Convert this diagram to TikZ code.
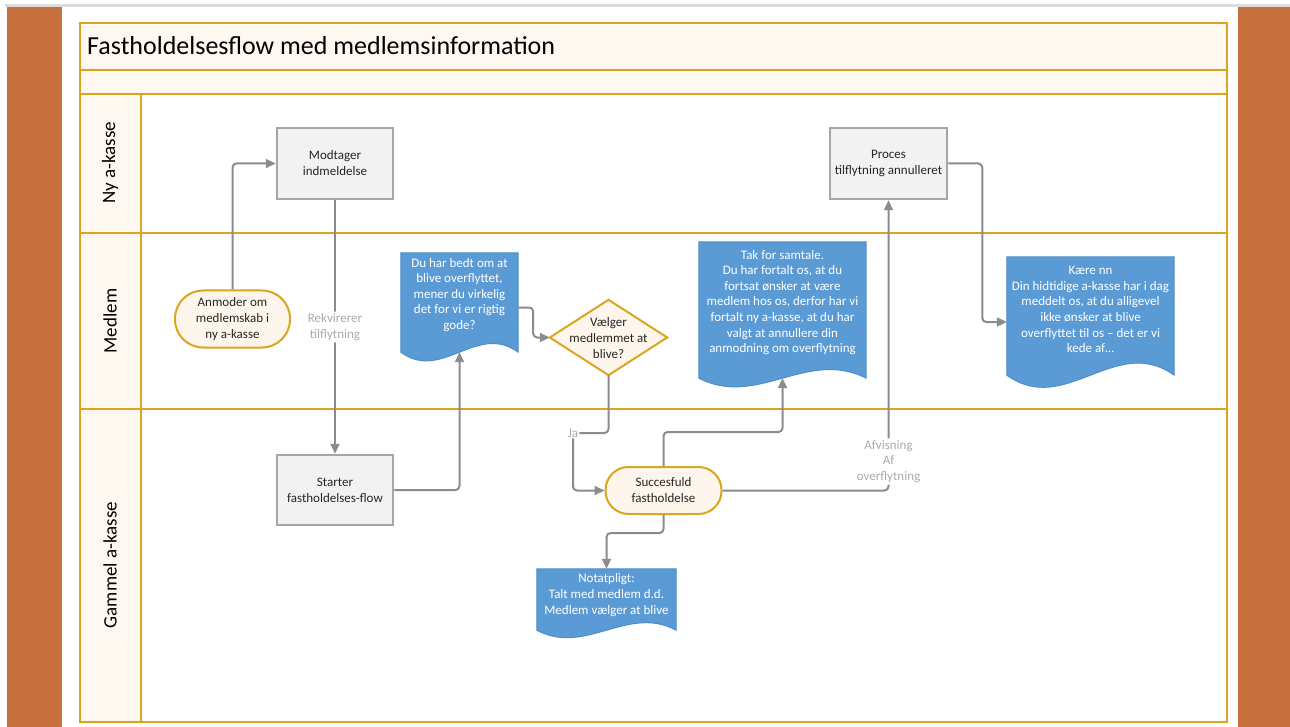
\documentclass[tikz,border=0pt]{standalone}
\usepackage{fontspec}
\setmainfont{Carlito}
\usetikzlibrary{arrows.meta,calc}
\definecolor{orangebar}{HTML}{C5703D}
\definecolor{gold}{HTML}{DAA520}
\definecolor{cream}{HTML}{FEF8F1}
\definecolor{pillfill}{HTML}{FEF6EC}
\definecolor{boxfill}{HTML}{F2F2F2}
\definecolor{boxline}{HTML}{A6A6A6}
\definecolor{conncol}{HTML}{8C8C8C}
\definecolor{lblgray}{HTML}{ABABAB}
\definecolor{docblue}{HTML}{5B9BD5}
\definecolor{docline}{HTML}{4F8DC6}
\definecolor{topgray}{HTML}{DCDCDC}
\definecolor{txt}{HTML}{262626}
\newcommand\docshape[2]{%
  \filldraw[fill=docblue, draw=docline, line width=1pt]
    let \p1=(#1.south west), \p2=(#1.north east), \n1={\x2-\x1} in
    (\x1,\y2) -- (\x2,\y2) -- (\x2,\y1)
    .. controls ({\x2-0.35*\n1},{\y1+#2pt}) and ({\x1+0.35*\n1},{\y1-#2pt}) .. (\x1,\y1) -- cycle;}
\begin{document}
\begin{tikzpicture}[x=1pt,y=-1pt,
  every node/.style={font=\fontsize{13}{16}\selectfont, text=txt, align=center, inner sep=0pt},
  procbox/.style={rectangle, draw=boxline, line width=2.5pt, fill=boxfill},
  pill/.style={rectangle, draw=gold, line width=2pt, fill=pillfill},
  area/.style={rectangle, draw=none},
  doctext/.style={text=white, font=\fontsize{13}{15.6}\selectfont},
  lanelbl/.style={rotate=90, font=\fontsize{19}{22}\selectfont, text=black},
  frameline/.style={draw=gold, line width=2.5pt},
  conn/.style={draw=conncol, line width=2pt, rounded corners=4pt},
  arr/.style={conn, -{Triangle[length=10pt,width=9pt]}},
  lbl/.style={fill=white, text=lblgray, inner sep=2pt, font=\fontsize{13}{15.5}\selectfont}]
\useasboundingbox (0,0) rectangle (1290,727);
\fill[white] (0,0) rectangle (1290,727);
% page background
\fill[topgray] (5,4) rectangle (1290,7);
\fill[orangebar] (7,7) rectangle (62,727);
\fill[orangebar] (1238,7) rectangle (1290,727);
% swimlane frame
\fill[cream] (80,23) rectangle (1227,94);
\fill[cream] (80,94) rectangle (141,722);
\draw[frameline] (80,70) -- (1227,70);
\draw[frameline] (80,94) -- (1227,94);
\draw[frameline] (80,233) -- (1227,233);
\draw[frameline] (80,409) -- (1227,409);
\draw[frameline] (141,94) -- (141,722);
\draw[frameline] (80,23) rectangle (1227,722);
\node[anchor=base west, font=\fontsize{26}{30}\selectfont, text=black] (title) at (87,55) {Fastholdelsesflow med medlemsinformation};
\node[lanelbl] (lane1) at (110,163) {Ny a-kasse};
\node[lanelbl] (lane2) at (110,321) {Medlem};
\node[lanelbl] (lane3) at (110,565) {Gammel a-kasse};
% process boxes
\node[procbox, minimum width=116pt, minimum height=71pt] (mod) at (335,163.5) {Modtager\\indmeldelse};
\node[procbox, minimum width=117pt, minimum height=71pt] (proc) at (888.5,163.5) {Proces\\tilflytning annulleret};
\node[procbox, minimum width=116pt, minimum height=70pt] (start) at (335,490) {Starter\\fastholdelses-flow};
% terminators
\node[pill, rounded corners=28pt, minimum width=115pt, minimum height=57pt] (anm) at (232.5,319) {Anmoder om\\medlemskab i\\ny a-kasse};
\node[pill, rounded corners=23pt, minimum width=116pt, minimum height=47pt] (succ) at (663.5,490.5) {Succesfuld\\fastholdelse};
% decision
\node[area, minimum width=117pt, minimum height=75pt] (dia) at (608.5,337.5) {};
\filldraw[fill=pillfill, draw=gold, line width=2pt] (dia.north) -- (dia.east) -- (dia.south) -- (dia.west) -- cycle;
\node (diat) at (608.5,338) {V\ae lger\\medlemmet at\\blive?};
% documents
\node[area, minimum width=117pt, minimum height=99pt] (d1) at (459.5,302.5) {};
\docshape{d1}{30}
\node[doctext] (d1t) at (459.5,295) {Du har bedt om at\\blive overflyttet,\\mener du virkelig\\det for vi er rigtig\\gode?};
\node[area, minimum width=167pt, minimum height=136pt] (d2) at (782.5,310) {};
\docshape{d2}{30}
\node[doctext] (d2t) at (782.5,302.5) {Tak for samtale.\\Du har fortalt os, at du\\fortsat ønsker at være\\medlem hos os, derfor har vi\\fortalt ny a-kasse, at du har\\valgt at annullere din\\anmodning om overflytning};
\node[area, minimum width=167pt, minimum height=118pt] (d3) at (1090.5,316) {};
\docshape{d3}{42}
\node[doctext] (d3t) at (1090.5,309.5) {Kære nn\\Din hidtidige a-kasse har i dag\\meddelt os, at du alligevel\\ikke ønsker at blive\\overflyttet til os – det er vi\\kede af…};
\node[area, minimum width=139pt, minimum height=61pt] (d4) at (606.5,599.5) {};
\docshape{d4}{26}
\node[doctext] (d4t) at (606.5,595) {Notatpligt:\\Talt med medlem d.d.\\Medlem vælger at blive};
% connectors
\draw[arr] (anm.north) |- (mod.west);
\draw[arr] (mod.south) -- node[lbl] (rek) {Rekvirerer\\tilflytning} (start.north);
\draw[arr] (start.east) -| (d1.south);
\draw[arr] ($(d1.east)+(0,5)$) -- ++(15,0) |- (dia.west);
\node[lbl, inner sep=1pt] (ja) at (573,433) {Ja};
\draw[conn] (dia.south) |- (ja.east);
\draw[arr] (ja.south) |- (succ.west);
\draw[arr] (succ.north) -- ++(0,-34) -| (d2.south);
\draw[arr] (succ.east) -| node[lbl, pos=0.55] (afv) {Afvisning\\Af\\overflytning} (proc.south);
\draw[arr] (proc.east) -- ++(34,0) |- ($(d3.west)+(0,6)$);
\draw[arr] (succ.south) -- ++(0,18) -| (d4.north);
\end{tikzpicture}
\end{document}
